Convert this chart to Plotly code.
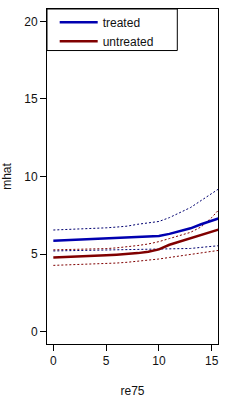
import plotly.graph_objects as go

# re75 grid (thousands)
re75 = [0, 1, 2, 3, 4, 5, 6, 7, 8, 9, 10, 11, 12, 13, 14, 15, 16]

treated_mhat = [5.85, 5.88, 5.90, 5.93, 5.96, 5.99, 6.02, 6.05, 6.08, 6.12, 6.17, 6.30, 6.48, 6.66, 6.92, 7.18, 7.38]
treated_upper = [6.55, 6.57, 6.60, 6.63, 6.66, 6.69, 6.74, 6.80, 6.92, 7.02, 7.10, 7.35, 7.70, 8.00, 8.45, 8.90, 9.35]
treated_lower = [5.20, 5.21, 5.22, 5.23, 5.25, 5.26, 5.27, 5.28, 5.29, 5.29, 5.30, 5.31, 5.33, 5.36, 5.43, 5.50, 5.56]

untreated_mhat = [4.78, 4.80, 4.83, 4.86, 4.89, 4.92, 4.96, 5.00, 5.06, 5.15, 5.30, 5.60, 5.82, 6.02, 6.22, 6.45, 6.65]
untreated_upper = [5.27, 5.28, 5.29, 5.31, 5.33, 5.35, 5.40, 5.46, 5.55, 5.65, 5.80, 6.00, 6.20, 6.40, 6.75, 7.35, 8.10]
untreated_lower = [4.27, 4.29, 4.31, 4.33, 4.36, 4.38, 4.42, 4.47, 4.53, 4.60, 4.68, 4.78, 4.88, 4.97, 5.06, 5.16, 5.27]

x_ticks = [0, 5, 10, 15]
y_ticks = [0, 5, 10, 15, 20]

BLUE = "#0000B0"
RED = "#800000"
BLUE_D = "#000070"
RED_D = "#800000"

FONT = "Arial, Liberation Sans"

fig = go.Figure()
for ys, col in [(treated_upper, BLUE_D), (treated_lower, BLUE_D),
                (untreated_upper, RED_D), (untreated_lower, RED_D)]:
    fig.add_trace(go.Scatter(x=re75, y=ys, mode="lines", showlegend=False,
                             line=dict(color=col, width=1, dash="2px,2px"),
                             hoverinfo="skip"))
fig.add_trace(go.Scatter(x=re75, y=treated_mhat, mode="lines", name="treated",
                         line=dict(color=BLUE, width=2.5)))
fig.add_trace(go.Scatter(x=re75, y=untreated_mhat, mode="lines", name="untreated",
                         line=dict(color=RED, width=2.5)))

axis_common = dict(showline=True, mirror=True, linecolor="black", linewidth=1,
                   ticks="outside", ticklen=6, tickcolor="black", tickwidth=1,
                   showgrid=False, zeroline=False, automargin=False,
                   tickfont=dict(family=FONT, size=12, color="#111"))

fig.update_xaxes(range=[-0.6, 15.6], tickvals=x_ticks, ticktext=[str(v) for v in x_ticks],
                 title=dict(text="re75", standoff=19,
                            font=dict(family=FONT, size=12, color="#111")),
                 **axis_common)
fig.update_yaxes(range=[-0.8, 20.8], tickvals=y_ticks, ticktext=[str(v) for v in y_ticks],
                 title=dict(text="mhat", standoff=17,
                            font=dict(family=FONT, size=12, color="#111")),
                 **axis_common)

# legend frame (box drawn behind the legend entries)
fig.add_shape(type="rect", xref="paper", yref="paper",
              x0=0, x1=0.762, y0=0.876, y1=1.0,
              line=dict(color="black", width=1), fillcolor="white", layer="above")

fig.update_layout(
    width=243, height=400,
    margin=dict(l=47, r=25, t=9, b=56, pad=0, autoexpand=False),
    paper_bgcolor="white", plot_bgcolor="white",
    font=dict(family=FONT, size=12, color="#111"),
    showlegend=True,
    legend=dict(x=0.045, y=1.004, xanchor="left", yanchor="top",
                bgcolor="rgba(0,0,0,0)", borderwidth=0,
                itemwidth=38, font=dict(size=12), tracegroupgap=0),
)

fig.write_html("out.html", config={"displayModeBar": False},
               post_script="document.body.style.margin='0';")
